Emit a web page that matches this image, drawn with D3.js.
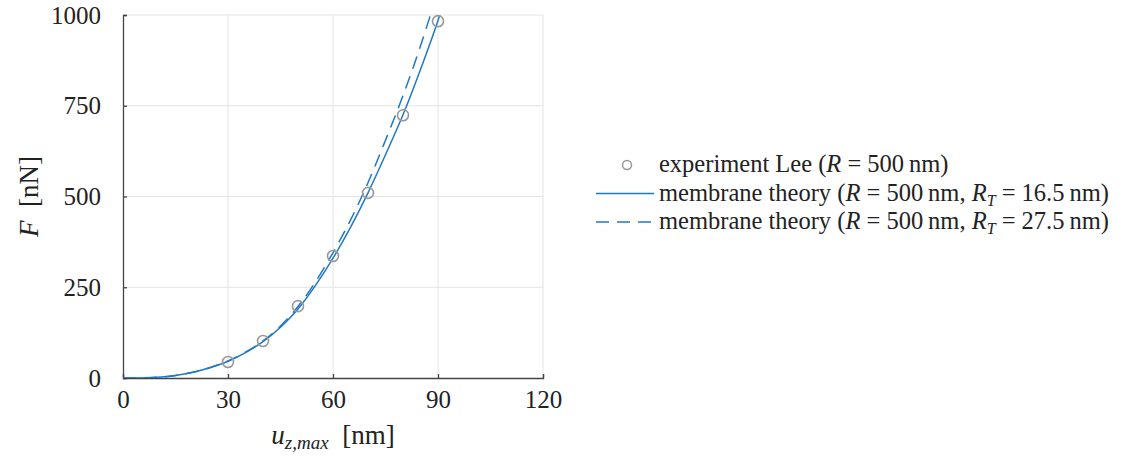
<!DOCTYPE html>
<html>
<head>
<meta charset="utf-8">
<script src="https://cdn.jsdelivr.net/npm/d3@7"></script>
<style>
  body { margin: 0; background: #fff; }
  svg text { font-family: "Liberation Serif", "DejaVu Serif", serif; fill: #222; }
</style>
</head>
<body>
<svg id="chart"></svg>
<script>
// measured values
const expU = [30, 40, 50, 60, 70, 80, 90]
const expF = [44, 102, 198, 336, 510, 724, 983]

const thU = [0, 5, 10, 15, 20, 25, 30, 35, 40, 45, 50, 55, 60, 65, 70, 75, 80, 85, 90, 92]
const thinF = [0, 0.3, 2, 7, 16, 29, 46, 70, 100, 140, 190, 255, 330, 415, 510, 615, 725, 850, 985, 1045]
const thickF = [0, 0.3, 2, 7, 16, 29, 47, 71, 102, 143, 197, 265, 345, 435, 538, 655, 778, 915, 1070, 1140]

const xTicks = [0, 30, 60, 90, 120]
const yTicks = [0, 250, 500, 750, 1000]

const legendItems = [
  {type: 'circle', parts: [['experiment Lee (', ''], ['R', 'i'], [' = 500\u2009nm)', '']]},
  {type: 'solid', parts: [['membrane theory (', ''], ['R', 'i'], [' = 500\u2009nm, ', ''], ['R', 'i'], ['T', 'sub'], [' = 16.5\u2009nm)', 'up']]},
  {type: 'dash', parts: [['membrane theory (', ''], ['R', 'i'], [' = 500\u2009nm, ', ''], ['R', 'i'], ['T', 'sub'], [' = 27.5\u2009nm)', 'up']]}
]

const W = 1143, H = 458
const margin = {top: 15, left: 123, right: 600, bottom: 80}
const blue = '#1f78c8'

const svg = d3.select('#chart').attr('width', W).attr('height', H)

const x = d3.scaleLinear().domain([0, 120]).range([margin.left, W - margin.right])
const y = d3.scaleLinear().domain([0, 1000]).range([H - margin.bottom, margin.top])

// grid
svg.append('g').selectAll('line').data(xTicks.slice(1)).enter().append('line')
  .attr('x1', d => x(d)).attr('x2', d => x(d))
  .attr('y1', y(0)).attr('y2', y(1000))
  .attr('stroke', '#e4e4e4').attr('stroke-width', 1)
svg.append('g').selectAll('line').data(yTicks.slice(1)).enter().append('line')
  .attr('x1', x(0)).attr('x2', x(120))
  .attr('y1', d => y(d)).attr('y2', d => y(d))
  .attr('stroke', '#e4e4e4').attr('stroke-width', 1)

// axes
const xAxis = d3.axisBottom(x).tickValues(xTicks).tickSize(-4).tickPadding(12).tickFormat(d3.format('d'))
const yAxis = d3.axisLeft(y).tickValues(yTicks).tickSize(-4).tickPadding(22).tickFormat(d3.format('d'))

const gx = svg.append('g').attr('transform', `translate(0,${y(0)})`).call(xAxis)
const gy = svg.append('g').attr('transform', `translate(${x(0)},0)`).call(yAxis)
;[gx, gy].forEach(g => {
  g.attr('font-family', null).attr('font-size', null)
  g.select('.domain').attr('stroke', '#444').attr('stroke-width', 1.3)
  g.selectAll('.tick line').attr('stroke', '#444').attr('stroke-width', 1.3)
  g.selectAll('.tick text').style('font-size', '25px').style('font-family', '"Liberation Serif", serif')
})

// clip
svg.append('clipPath').attr('id', 'clip').append('rect')
  .attr('x', x(0)).attr('y', y(1000)).attr('width', x(120) - x(0)).attr('height', y(0) - y(1000))

const line = d3.line().x(d => x(d[0])).y(d => y(d[1])).curve(d3.curveMonotoneX)
const plot = svg.append('g').attr('clip-path', 'url(#clip)')

plot.append('path').datum(thU.map((u, i) => [u, thinF[i]]))
  .attr('d', line).attr('fill', 'none').attr('stroke', blue).attr('stroke-width', 1.5)
plot.append('path').datum(thU.map((u, i) => [u, thickF[i]]))
  .attr('d', line).attr('fill', 'none').attr('stroke', blue).attr('stroke-width', 1.5)
  .attr('stroke-dasharray', '13,8')

svg.append('g').selectAll('circle').data(expU).enter().append('circle')
  .attr('cx', d => x(d)).attr('cy', (d, i) => y(expF[i])).attr('r', 5.5)
  .attr('fill', 'none').attr('stroke', '#999').attr('stroke-width', 1.6)

// axis labels
const yl = svg.append('text')
  .attr('transform', `translate(38,${y(500)}) rotate(-90)`)
  .attr('text-anchor', 'middle').style('font-size', '27px')
yl.append('tspan').attr('font-style', 'italic').text('F')
yl.append('tspan').text('\u2002[nN]')

const xl = svg.append('text')
  .attr('x', x(60)).attr('y', 444)
  .attr('text-anchor', 'middle').style('font-size', '27px')
xl.append('tspan').attr('font-style', 'italic').text('u')
xl.append('tspan').attr('font-style', 'italic').style('font-size', '19px').attr('dy', 5).text('z,max')
xl.append('tspan').attr('dy', -5).text('\u2002[nm]')

// legend
const lg = svg.append('g')
const ly0 = 165, ldy = 28.5
legendItems.forEach((it, i) => {
  const yy = ly0 + i * ldy
  if (it.type === 'circle') {
    lg.append('circle').attr('cx', 627).attr('cy', yy).attr('r', 4.5)
      .attr('fill', 'none').attr('stroke', '#999').attr('stroke-width', 1.5)
  } else {
    lg.append('line').attr('x1', 596).attr('x2', 654).attr('y1', yy).attr('y2', yy)
      .attr('stroke', blue).attr('stroke-width', 1.5)
      .attr('stroke-dasharray', it.type === 'dash' ? '13,8' : null)
  }
  const t = lg.append('text').attr('x', 659).attr('y', yy + 7).style('font-size', '24.5px')
  it.parts.forEach(([s, st]) => {
    const sp = t.append('tspan').text(s)
    if (st === 'i') sp.attr('font-style', 'italic')
    if (st === 'sub') sp.attr('font-style', 'italic').style('font-size', '16px').attr('dy', 5)
    if (st === 'up') sp.attr('dy', -5)
  })
})
</script>
</body>
</html>
